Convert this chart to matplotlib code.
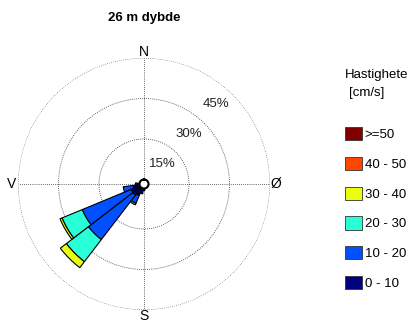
import numpy as np
import matplotlib
matplotlib.use("Agg")
import matplotlib.pyplot as plt
from matplotlib.patches import Patch

plt.rcParams["font.family"] = ["Liberation Sans", "DejaVu Sans"]

# direction bins (degrees, compass) and percentage per speed class
directions = [180, 195, 210, 225, 240, 255, 270]
speed_0_10 = [0.8, 2.0, 3.0, 3.5, 3.5, 2.5, 1.5]
speed_10_20 = [0.0, 0.0, 3.1, 20.8, 19.6, 3.6, 0.0]
speed_20_30 = [0.0, 0.0, 0.6, 10.3, 8.1, 0.0, 0.0]
speed_30_40 = [0.0, 0.0, 0.0, 2.8, 0.8, 0.0, 0.0]
speed_40_50 = [0.0, 0.0, 0.0, 0.0, 0.0, 0.0, 0.0]
speed_50 = [0.0, 0.0, 0.0, 0.0, 0.0, 0.0, 0.0]

classes = ["0 - 10", "10 - 20", "20 - 30", "30 - 40", "40 - 50", ">=50"]
colors = ["#000080", "#0050ff", "#29ffd6", "#eaff10", "#ff4600", "#800000"]
rings = [15, 30, 45]
bin_width = 15

fig = plt.figure(figsize=(4.12, 3.22), dpi=100)
R = 126
cx, cy = 144, 184
ax = fig.add_axes([(cx - R) / 412, (322 - cy - R) / 322, 2 * R / 412, 2 * R / 322],
                  projection="polar")
ax.set_theta_zero_location("N")
ax.set_theta_direction(-1)
ax.set_ylim(0, 45)
ax.set_rorigin(-1.67)

theta = np.deg2rad(directions)
bottom = np.zeros(len(directions))
for vals, col in zip([speed_0_10, speed_10_20, speed_20_30, speed_30_40, speed_40_50, speed_50], colors):
    vals = np.array(vals)
    mask = vals > 0
    ax.bar(theta[mask], vals[mask], width=np.deg2rad(bin_width), bottom=bottom[mask],
           color=col, edgecolor="black", linewidth=0.8, zorder=3)
    bottom += vals

# dotted grid, outer ring drawn as a grid line too
ax.set_rgrids(rings, labels=[""] * len(rings))
ax.set_ylim(0, 45)
ax.set_thetagrids([0, 90, 180, 270], ["N", "Ø", "S", "V"], fontsize=10)
ax.tick_params(axis="x", pad=-6)
ax.grid(True, color="#333333", linestyle=(0, (1, 1.5)), linewidth=0.6)
ax.spines["polar"].set_visible(False)
ax.spines["inner"].set_color("black")
ax.spines["inner"].set_linewidth(1.5)
ax.set_facecolor("white")

for r in rings:
    ax.text(np.deg2rad(42), r - 6.8, f"{r}%", fontsize=9.5, ha="center", va="center",
            color="#222222")

fig.text(cx / 412, 1 - 18 / 322, "26 m dybde", fontsize=9.5, fontweight="bold",
         ha="center", va="center")

# legend
fig.text(345 / 412, 1 - 75 / 322, "Hastighete", fontsize=9.5, ha="left", va="center")
fig.text(349 / 412, 1 - 93 / 322, "[cm/s]", fontsize=9.5, ha="left", va="center")
handles = [Patch(facecolor=c, edgecolor="#333333", linewidth=0.6) for c in colors[::-1]]
fig.legend(handles, classes[::-1], loc="upper left", bbox_to_anchor=(333 / 412, 1 - 115 / 322),
           frameon=False, fontsize=9.5, handlelength=1.3, handleheight=1.15,
           handletextpad=0.2, labelspacing=1.2)

fig.savefig("out.png", dpi=100)
